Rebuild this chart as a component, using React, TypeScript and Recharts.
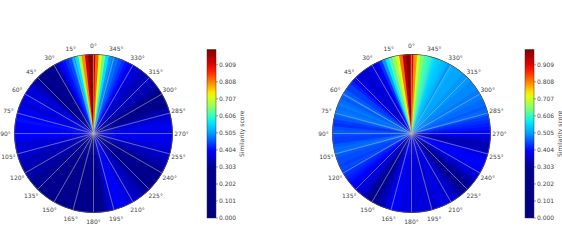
import { PieChart, Pie, Cell, PolarAngleAxis, BarChart, Bar, XAxis, YAxis } from "recharts";

// similarity per 2.5 degree step, starting at 0 deg and going counter clockwise
const leftScores = [
  1.0, 0.93, 0.8, 0.68, 0.56, 0.5,
  0.45, 0.43, 0.41, 0.39, 0.34, 0.31,
  0.27, 0.25, 0.24, 0.24, 0.26, 0.28,
  0.32, 0.34, 0.36, 0.37, 0.36, 0.38,
  0.38, 0.37, 0.36, 0.38, 0.39, 0.4,
  0.4, 0.41, 0.4, 0.4, 0.39, 0.4,
  0.4, 0.38, 0.37, 0.36, 0.37, 0.36,
  0.35, 0.34, 0.33, 0.34, 0.33, 0.32,
  0.33, 0.32, 0.31, 0.3, 0.31, 0.3,
  0.3, 0.29, 0.28, 0.29, 0.28, 0.27,
  0.27, 0.26, 0.26, 0.25, 0.26, 0.25,
  0.24, 0.24, 0.25, 0.25, 0.26, 0.26,
  0.26, 0.28, 0.3, 0.33, 0.36, 0.37,
  0.39, 0.4, 0.39, 0.38, 0.37, 0.36,
  0.35, 0.34, 0.34, 0.32, 0.31, 0.3,
  0.29, 0.28, 0.27, 0.27, 0.28, 0.29,
  0.31, 0.32, 0.33, 0.34, 0.35, 0.35,
  0.36, 0.37, 0.38, 0.38, 0.39, 0.38,
  0.38, 0.39, 0.38, 0.37, 0.36, 0.35,
  0.33, 0.3, 0.28, 0.27, 0.27, 0.28,
  0.29, 0.31, 0.33, 0.33, 0.34, 0.36,
  0.33, 0.34, 0.35, 0.36, 0.37, 0.38,
  0.39, 0.41, 0.43, 0.45, 0.47, 0.48,
  0.5, 0.56, 0.64, 0.72, 0.83, 0.95,
];

const rightScores = [
  1.0, 0.95, 0.82, 0.72, 0.66, 0.62,
  0.57, 0.5, 0.43, 0.39, 0.37, 0.38,
  0.37, 0.36, 0.36, 0.37, 0.38, 0.4,
  0.42, 0.44, 0.44, 0.46, 0.47, 0.46,
  0.47, 0.48, 0.47, 0.48, 0.47, 0.46,
  0.44, 0.43, 0.45, 0.46, 0.45, 0.44,
  0.44, 0.46, 0.47, 0.47, 0.46, 0.45,
  0.45, 0.44, 0.45, 0.44, 0.43, 0.42,
  0.41, 0.4, 0.39, 0.38, 0.37, 0.36,
  0.33, 0.31, 0.3, 0.29, 0.31, 0.33,
  0.35, 0.37, 0.39, 0.4, 0.39, 0.38,
  0.37, 0.38, 0.37, 0.36, 0.37, 0.37,
  0.36, 0.37, 0.36, 0.36, 0.37, 0.38,
  0.37, 0.36, 0.36, 0.35, 0.34, 0.32,
  0.3, 0.29, 0.29, 0.31, 0.33, 0.35,
  0.37, 0.38, 0.39, 0.4, 0.4, 0.39,
  0.38, 0.36, 0.34, 0.33, 0.34, 0.36,
  0.38, 0.4, 0.41, 0.42, 0.43, 0.44,
  0.46, 0.47, 0.46, 0.47, 0.47, 0.48,
  0.48, 0.48, 0.49, 0.49, 0.49, 0.5,
  0.5, 0.5, 0.51, 0.51, 0.51, 0.52,
  0.5, 0.52, 0.53, 0.54, 0.55, 0.57,
  0.6, 0.62, 0.65, 0.7, 0.8, 0.92,
];

const angleTicks = [0, 15, 30, 45, 60, 75, 90, 105, 120, 135, 150, 165, 180, 195, 210, 225, 240, 255, 270, 285, 300, 315, 330, 345];
const barTicks = [0, 0.101, 0.202, 0.303, 0.404, 0.505, 0.606, 0.707, 0.808, 0.909];

const scoreStops = [0, 0.3, 0.4, 0.505, 0.56, 0.606, 0.66, 0.72, 0.75, 0.808, 0.87, 0.92, 1];
const stopColors = ["#00007f", "#00008f", "#0000ff", "#00a0ff", "#00e0ff", "#30ffc0", "#90ff60", "#e0ff10", "#ffe000", "#ff8000", "#ff2000", "#d80000", "#7f0000"];

const STEP = 2.5;
const RADIUS = 79;
const CX = 93.5;
const CY = 133.5;

function hexToRgb(hex: string) {
  return [1, 3, 5].map((i) => parseInt(hex.slice(i, i + 2), 16));
}

function scoreColor(score: number) {
  let i = 0;
  while (i < scoreStops.length - 2 && score > scoreStops[i + 1]) i++;
  const t = (score - scoreStops[i]) / (scoreStops[i + 1] - scoreStops[i]);
  const a = hexToRgb(stopColors[i]);
  const b = hexToRgb(stopColors[i + 1]);
  const c = a.map((v, k) => Math.round(v + (b[k] - v) * t));
  return `rgb(${c[0]},${c[1]},${c[2]})`;
}

function AngleTick({ x, y, payload }: any) {
  const dx = x - CX;
  const dy = y - CY;
  const len = Math.hypot(dx, dy) || 1;
  return (
    <text x={CX + (dx / len) * 88} y={CY + (dy / len) * 88} textAnchor="middle" dominantBaseline="central" fontSize={6} fill="#444">
      {payload.value}°
    </text>
  );
}

function Panel({ scores, left, id }: { scores: number[]; left: number; id: string }) {
  const slices = scores.map((score, i) => ({ angle: i * STEP, score, span: 1 }));
  const spokes = angleTicks.map((a) => ({ angle: a, span: 1 }));
  const pieProps = { cx: CX, cy: CY, isAnimationActive: false, labelLine: false };
  const cells = slices.map((s) => <Cell key={s.angle} fill={scoreColor(s.score)} stroke="none" />);
  return (
    <div style={{ position: "absolute", left, top: 0, width: 250, height: 248 }}>
      <div style={{ position: "absolute", left: 0, top: 0 }}>
        <PieChart width={195} height={248} margin={{ top: 0, right: 0, bottom: 0, left: 0 }} cx={CX} cy={CY} innerRadius={0} outerRadius={RADIUS} startAngle={90} endAngle={450}>
          {/* same slices turned half a step underneath, hides the seams of the top layer */}
          <Pie {...pieProps} data={slices} dataKey="span" outerRadius={RADIUS} startAngle={90 + STEP} endAngle={450 + STEP} stroke="none">
            {cells}
          </Pie>
          <Pie {...pieProps} data={slices} dataKey="span" outerRadius={RADIUS} startAngle={90 + STEP / 2} endAngle={450 + STEP / 2} stroke="none">
            {cells}
          </Pie>
          {/* spokes every 15 degrees */}
          <Pie {...pieProps} data={spokes} dataKey="span" outerRadius={RADIUS} startAngle={90} endAngle={450} fill="none" stroke="#b4b4b4" strokeOpacity={0.55} strokeWidth={0.6} />
          {/* outer ring */}
          <Pie {...pieProps} data={[{ span: 1 }]} dataKey="span" innerRadius={RADIUS - 0.2} outerRadius={RADIUS + 0.4} startAngle={90} endAngle={450} fill="#333" stroke="none" />
          <PolarAngleAxis
            type="number"
            dataKey="angle"
            domain={[0, 360]}
            ticks={angleTicks as any}
            axisLine={false}
            tickLine={false}
            tick={(p: any) => <AngleTick {...p} />}
          />
        </PieChart>
      </div>
      <div style={{ position: "absolute", left: 199, top: 0 }}>
        <BarChart
          width={52}
          height={248}
          data={[{ name: "score", full: 1 }]}
          margin={{ top: 49.5, right: 0, bottom: 30, left: 8 }}
          barCategoryGap={0}
        >
          <defs>
            <linearGradient id={id} x1="0" y1="1" x2="0" y2="0">
              {scoreStops.map((s, i) => (
                <stop key={s} offset={s} stopColor={stopColors[i]} />
              ))}
            </linearGradient>
          </defs>
          <XAxis dataKey="name" hide />
          <YAxis
            orientation="right"
            width={35}
            domain={[0, 1]}
            ticks={barTicks}
            interval={0}
            tickFormatter={(v: number) => v.toFixed(3)}
            tick={{ fontSize: 6, fill: "#444" }}
            tickSize={2}
            tickMargin={1}
            axisLine={false}
            tickLine={{ stroke: "#333", strokeWidth: 0.5 }}
            label={{ value: "Similarity score", angle: -90, position: "insideRight", offset: 9, fontSize: 6, fill: "#444", style: { textAnchor: "middle" } }}
          />
          <Bar dataKey="full" fill={`url(#${id})`} stroke="#333" strokeWidth={0.5} isAnimationActive={false} />
        </BarChart>
      </div>
    </div>
  );
}

export default function App() {
  return (
    <div style={{ position: "absolute", left: 0, top: 0, width: 562, height: 248, overflow: "hidden", background: "#fff", fontFamily: "'DejaVu Sans', sans-serif" }}>
      <Panel scores={leftScores} left={0} id="jetLeft" />
      <Panel scores={rightScores} left={317.5} id="jetRight" />
    </div>
  );
}
